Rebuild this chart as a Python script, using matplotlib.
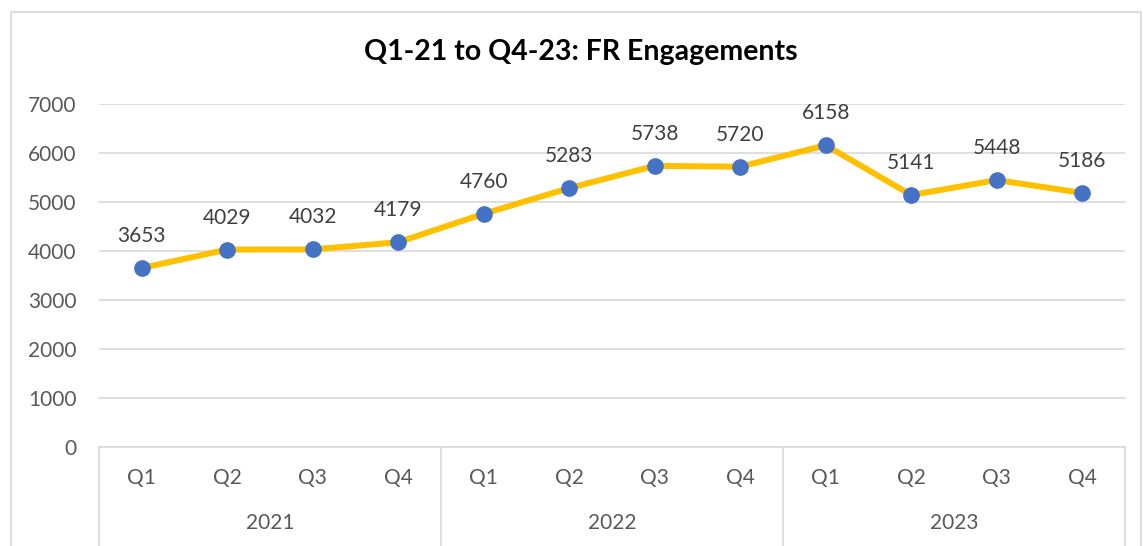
import matplotlib
matplotlib.use("Agg")
import matplotlib.pyplot as plt
import numpy as np
from matplotlib.patches import Rectangle
from matplotlib.transforms import blended_transform_factory, offset_copy

quarters = ["Q1", "Q2", "Q3", "Q4"] * 3
years = ["2021", "2022", "2023"]
values = [3653, 4029, 4032, 4179, 4760, 5283, 5738, 5720, 6158, 5141, 5448, 5186]
yticks = [0, 1000, 2000, 3000, 4000, 5000, 6000, 7000]

plt.rcParams.update({
    "font.family": ["Lato", "DejaVu Sans"],
})

W, H = 1143, 546
fig = plt.figure(figsize=(W / 100, H / 100), dpi=100)
fig.patch.set_facecolor("white")

# chart border (Excel chart area)
fig.add_artist(Rectangle((11 / W, 1 - 560 / H), 1130 / W, 548 / H,
                         transform=fig.transFigure, fill=False,
                         edgecolor="#d9d9d9", lw=1.2))

ax = fig.add_axes([99 / W, 1 - 447 / H, 1026 / W, 343 / H])
for s in ax.spines.values():
    s.set_visible(False)

x = np.arange(len(values)) + 0.5
ax.set_xlim(0, len(values))
ax.set_ylim(0, 7000)
ax.set_yticks(yticks)
ax.set_yticklabels([str(v) for v in yticks])
ax.tick_params(axis="y", length=0, pad=16, labelsize=15, labelcolor="#595959")
ax.set_xticks([])
ax.grid(axis="y", color="#d9d9d9", lw=1.2, zorder=0)
ax.set_axisbelow(True)

ax.plot(x, values, color="#ffc000", lw=4.3, zorder=3, solid_capstyle="round")
ax.plot(x, values, "o", color="#4472c4", ms=11, zorder=4)
for xi, v in zip(x, values):
    ax.annotate(str(v), (xi, v), xytext=(0, 23), textcoords="offset points",
                ha="center", va="center", fontsize=15, color="#404040")

# multi-level category axis
tr = blended_transform_factory(ax.transData, ax.transAxes)
ax.plot([0, len(values)], [0, 0], transform=tr, color="#d9d9d9", lw=1.2, clip_on=False)
for b in range(0, len(values) + 1, 4):
    ax.plot([b, b], [0, -0.3], transform=tr, color="#d9d9d9", lw=1.2, clip_on=False)
for xi, q in zip(x, quarters):
    ax.text(xi, 0, q, transform=offset_copy(tr, fig=fig, y=-31, units="dots"),
            ha="center", va="center", fontsize=15, color="#595959")
for i, yr in enumerate(years):
    ax.text(i * 4 + 2, 0, yr, transform=offset_copy(tr, fig=fig, y=-76, units="dots"),
            ha="center", va="center", fontsize=15, color="#595959")

fig.text(581 / W, 1 - 52 / H, "Q1-21 to Q4-23: FR Engagements", ha="center",
         va="center", fontsize=20.5, fontweight="bold", color="black")

fig.savefig("out.png", dpi=100, facecolor="white")
